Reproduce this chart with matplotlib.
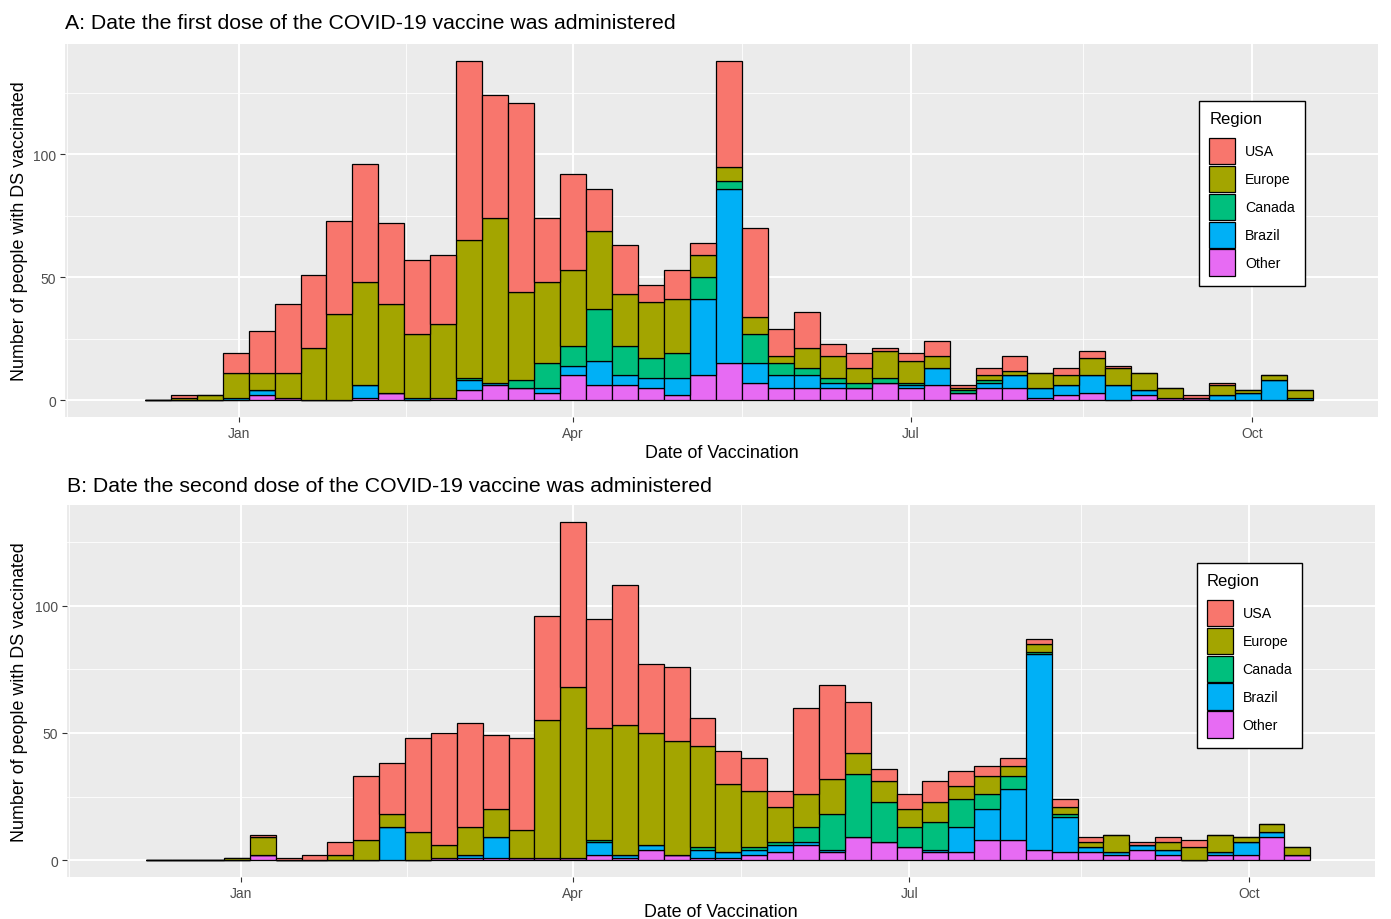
"""Weekly counts of first and second COVID-19 vaccine doses by region (stacked histograms)."""

import matplotlib

matplotlib.use("Agg")

import matplotlib.dates as mdates
import matplotlib.pyplot as plt
import pandas as pd
from matplotlib.patches import Patch

plt.rcParams["font.family"] = ["Liberation Sans", "DejaVu Sans"]

# weekly bins (left edges), 45 weeks
week_starts = pd.date_range("2020-12-06 12:00", periods=45, freq="7D")

regions = ["USA", "Europe", "Canada", "Brazil", "Other"]
region_colors = {
    "USA": "#F8766D",
    "Europe": "#A3A500",
    "Canada": "#00BF7D",
    "Brazil": "#00B0F6",
    "Other": "#E76BF3",
}

# panel A: first dose, counts per week
first_other = [0, 0, 0, 0, 2, 1, 0, 0, 1, 3, 0, 1, 4, 6, 5, 3, 10, 6, 6, 5, 2, 10, 15,
               7, 5, 5, 5, 5, 7, 5, 6, 3, 5, 5, 1, 2, 3, 0, 2, 1, 1, 0, 0, 0, 0]
first_brazil = [0, 0, 0, 1, 2, 0, 0, 0, 5, 0, 1, 0, 4, 1, 0, 2, 4, 10, 4, 4, 7, 31, 71,
                8, 5, 5, 2, 0, 0, 1, 7, 0, 2, 5, 4, 4, 7, 6, 2, 0, 0, 2, 3, 8, 1]
first_canada = [0, 0, 0, 0, 0, 0, 0, 0, 0, 0, 0, 0, 1, 0, 3, 10, 8, 21, 12, 8, 10, 9, 3,
                12, 5, 3, 2, 2, 2, 1, 0, 1, 1, 0, 0, 0, 0, 0, 0, 0, 0, 0, 0, 0, 0]
first_europe = [0, 1, 2, 10, 7, 10, 21, 35, 42, 36, 26, 30, 56, 67, 36, 33, 31, 32, 21, 23,
                22, 9, 6, 7, 3, 8, 9, 6, 11, 9, 5, 1, 2, 2, 6, 4, 7, 7, 7, 4, 0, 4, 1, 2, 3]
first_usa = [0, 1, 0, 8, 17, 28, 30, 38, 48, 33, 30, 28, 73, 50, 77, 26, 39, 17, 20, 7,
             12, 5, 43, 36, 11, 15, 5, 6, 1, 3, 6, 1, 3, 6, 0, 3, 3, 1, 0, 0, 1, 1, 0, 0, 0]

# panel B: second dose, counts per week
second_other = [0, 0, 0, 0, 2, 0, 0, 0, 0, 0, 0, 1, 1, 1, 1, 1, 1, 2, 1, 4, 2, 1, 1,
                2, 3, 6, 3, 9, 7, 5, 3, 3, 8, 8, 4, 3, 3, 2, 4, 2, 0, 2, 2, 9, 2]
second_brazil = [0, 0, 0, 0, 0, 0, 0, 0, 0, 13, 0, 0, 1, 8, 0, 0, 0, 5, 1, 2, 0, 3, 2,
                 2, 3, 1, 1, 0, 0, 0, 1, 10, 12, 20, 77, 14, 2, 1, 2, 2, 0, 1, 5, 2, 0]
second_canada = [0, 0, 0, 0, 0, 0, 0, 0, 0, 0, 0, 0, 0, 0, 0, 0, 0, 1, 0, 0, 0, 1, 0,
                 1, 1, 6, 14, 25, 16, 8, 11, 11, 6, 5, 1, 1, 0, 0, 0, 0, 0, 0, 0, 0, 0]
second_europe = [0, 0, 0, 1, 7, 0, 0, 2, 8, 5, 11, 5, 11, 11, 11, 54, 67, 44, 51, 44, 45,
                 40, 27, 22, 14, 13, 14, 8, 8, 7, 8, 5, 7, 4, 3, 3, 2, 7, 0, 3, 5, 7, 2, 3, 3]
second_usa = [0, 0, 0, 0, 1, 1, 2, 5, 25, 20, 37, 44, 41, 29, 36, 41, 65, 43, 55, 27, 29,
              11, 13, 13, 6, 34, 37, 20, 5, 6, 8, 6, 4, 3, 2, 3, 2, 0, 1, 2, 3, 0, 0, 0, 0]

tick_dates = ["2021-01-01", "2021-04-01", "2021-07-01", "2021-10-01"]
tick_labels = ["Jan", "Apr", "Jul", "Oct"]
minor_dates = ["2020-11-15 12:00", "2021-02-15", "2021-05-16 12:00", "2021-08-16 12:00"]
x_range = ["2020-11-15", "2021-11-04"]

W, H = 1391, 920


def draw_panel(ax, counts, title, title_pad, xlabel_y, legend_anchor):
    left = mdates.date2num(week_starts.to_pydatetime())
    bottom = [0] * len(left)
    for name in ["Other", "Brazil", "Canada", "Europe", "USA"]:
        ax.bar(left, counts[name], width=7, bottom=bottom, align="edge",
               color=region_colors[name], edgecolor="black", linewidth=0.9)
        bottom = [b + c for b, c in zip(bottom, counts[name])]

    top = max(bottom)
    ax.set_ylim(-0.05 * top, 1.05 * top)
    ax.set_xlim(mdates.datestr2num(x_range[0]), mdates.datestr2num(x_range[1]))

    ax.set_facecolor("#EBEBEB")
    for spine in ax.spines.values():
        spine.set_visible(False)

    ax.set_xticks(mdates.datestr2num(tick_dates))
    ax.set_xticklabels(tick_labels)
    ax.set_xticks(mdates.datestr2num(minor_dates), minor=True)
    ax.set_yticks([0, 50, 100])
    ax.set_yticks([25, 75, 125], minor=True)
    ax.tick_params(which="major", length=3.5, width=0.8, color="#333333",
                   labelsize=10, labelcolor="#4D4D4D", pad=3)
    ax.tick_params(which="minor", length=0)
    ax.grid(True, which="major", color="white", linewidth=1.4)
    ax.grid(True, which="minor", color="white", linewidth=0.6)
    ax.set_axisbelow(True)

    ax.set_xlabel("Date of Vaccination", fontsize=12.9)
    ax.xaxis.set_label_coords(0.5, xlabel_y)
    ax.set_title(title, loc="left", fontsize=15.3, pad=title_pad)

    handles = [Patch(facecolor=region_colors[r], edgecolor="black", linewidth=0.9)
               for r in regions]
    leg = ax.legend(handles, regions, title="Region", loc="upper left",
                    bbox_to_anchor=legend_anchor, borderaxespad=0, fontsize=10.2,
                    title_fontsize=12, alignment="left", frameon=True, fancybox=False,
                    framealpha=1, edgecolor="black", handlelength=1.8, handleheight=2.5,
                    labelspacing=0.1, handletextpad=0.72, borderpad=0.7)
    leg.get_frame().set_linewidth(1.0)
    # a bit more room between the title and the keys, as in ggplot
    leg._legend_box.sep = 8.5


def main():
    fig = plt.figure(figsize=(W / 100, H / 100), dpi=100)
    ax_a = fig.add_axes([65 / W, 1 - 418 / H, 1313 / W, 373 / H])
    ax_b = fig.add_axes([67 / W, 1 - 878 / H, 1308 / W, 372 / H])

    first = {"Other": first_other, "Brazil": first_brazil, "Canada": first_canada,
             "Europe": first_europe, "USA": first_usa}
    second = {"Other": second_other, "Brazil": second_brazil, "Canada": second_canada,
              "Europe": second_europe, "USA": second_usa}

    draw_panel(ax_a, first, "A: Date the first dose of the COVID-19 vaccine was administered",
               11.5, -0.073, (0.864, 0.847))
    draw_panel(ax_b, second, "B: Date the second dose of the COVID-19 vaccine was administered",
               10, -0.07, (0.864, 0.844))

    for ax in (ax_a, ax_b):
        pos = ax.get_position()
        fig.text(20 / W, pos.y0 + pos.height / 2, "Number of people with DS vaccinated",
                 rotation=90, ha="center", va="center", fontsize=12.9)

    fig.savefig("out.png", dpi=100, facecolor="white")
    plt.close(fig)


if __name__ == "__main__":
    main()
